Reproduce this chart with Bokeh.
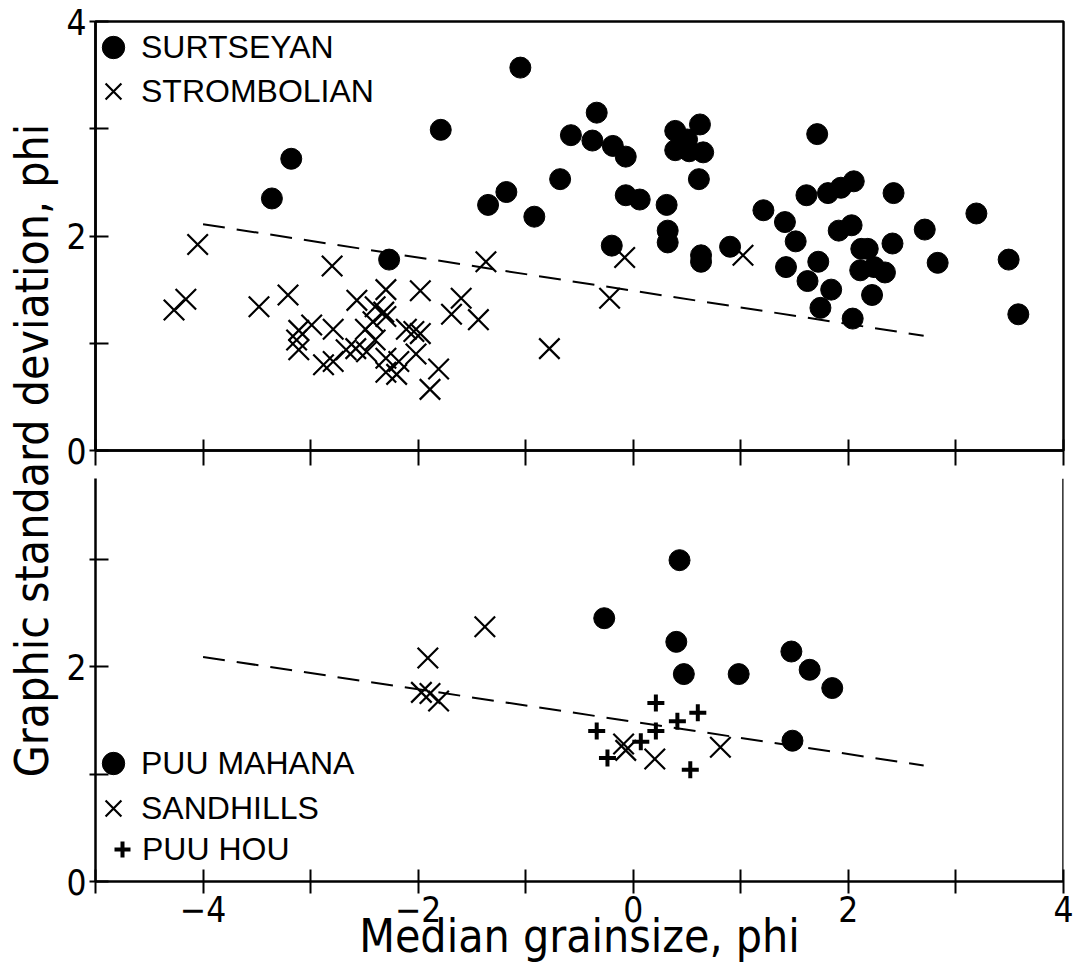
from math import pi
from bokeh.plotting import figure
from bokeh.layouts import row, column
from bokeh.models import (Legend, LegendItem, FixedTicker, Label, Range1d, Span)
from bokeh.embed import file_html
from bokeh.resources import INLINE

# ---------------- data ----------------
# Top panel: Surtseyan (dots)
surt_x = [-3.36, -3.18, -1.79, -2.27,
          -1.05, -0.34, -0.58, -0.38, -0.19, -0.07,
          0.39, 0.62, 0.50, 0.39, 0.52, 0.65, 0.61,
          -0.68, -1.18, -1.35, -0.92, -0.07, 0.06, 0.31, 0.32, 0.32,
          -0.20, 0.63, 0.63, 0.90,
          1.71, 1.61, 1.81, 1.93, 2.05, 2.42, 1.21, 1.41, 1.51, 1.91,
          2.03, 2.12, 2.11, 2.24, 2.34, 2.18, 2.41, 2.71, 3.19, 2.83,
          3.49, 3.58, 1.42, 1.72, 1.62, 1.84, 1.74, 2.22, 2.04]
surt_y = [2.35, 2.72, 2.99, 1.78,
          3.57, 3.15, 2.94, 2.89, 2.84, 2.74,
          2.98, 3.04, 2.90, 2.80, 2.79, 2.78, 2.53,
          2.53, 2.41, 2.29, 2.18, 2.38, 2.34, 2.29, 2.05, 1.94,
          1.91, 1.82, 1.76, 1.90,
          2.95, 2.38, 2.40, 2.45, 2.51, 2.40, 2.24, 2.13, 1.95, 2.05,
          2.10, 1.88, 1.68, 1.71, 1.66, 1.88, 1.93, 2.06, 2.21, 1.75,
          1.78, 1.27, 1.71, 1.76, 1.58, 1.50, 1.33, 1.45, 1.23]

# Top panel: Strombolian (crosses)
strom_x = [-4.05, -4.16, -4.27, -3.48, -3.21, -2.80, -2.30, -1.98, -1.60, -1.69,
           -2.57, -2.40, -2.30, -2.32, -2.42, -2.99, -2.79, -3.11, -3.13, -3.11,
           -2.49, -2.40, -2.11, -2.04, -1.98, -2.02, -1.81, -1.89, -2.18, -2.20,
           -2.30, -2.67, -2.58, -2.79, -2.88, -2.48, -2.30,
           -1.37, -1.44, -0.78, -0.22, -0.08, 1.02]
strom_y = [1.92, 1.41, 1.31, 1.34, 1.45, 1.72, 1.50, 1.49, 1.42, 1.27,
           1.40, 1.34, 1.25, 1.29, 1.20, 1.17, 1.13, 1.12, 1.03, 0.94,
           1.13, 1.03, 1.13, 1.11, 1.09, 0.90, 0.76, 0.57, 0.83, 0.71,
           0.73, 0.94, 0.95, 0.83, 0.80, 0.92, 0.86,
           1.76, 1.22, 0.95, 1.42, 1.80, 1.82]

# Bottom panel
mahana_x = [0.43, -0.27, 0.40, 0.47, 0.98, 1.47, 1.64, 1.85, 1.48]
mahana_y = [2.99, 2.45, 2.23, 1.93, 1.93, 2.14, 1.97, 1.80, 1.31]

sand_x = [-1.38, -1.91, -1.97, -1.81, -1.89, -0.09, -0.07, 0.20, 0.81]
sand_y = [2.37, 2.08, 1.76, 1.68, 1.75, 1.28, 1.22, 1.14, 1.25]

hou_x = [0.21, 0.60, 0.41, 0.21, -0.34, 0.07, -0.24, 0.53]
hou_y = [1.66, 1.57, 1.49, 1.40, 1.40, 1.30, 1.15, 1.04]

# Dashed trend lines (end points)
trend_x = [-4.0, 2.7]
trend_top_y = [2.11, 1.07]
trend_bot_y = [2.09, 1.08]

x_ticks = [-5, -4, -3, -2, -1, 0, 1, 2, 3, 4]
x_labels = {-4: "\u22124", -2: "\u22122", 0: "0", 2: "2", 4: "4"}
y_ticks_top = [0, 1, 2, 3, 4]
y_ticks_bot = [0, 1, 2, 3]
y_labels = {0: "0", 2: "2", 4: "4"}

COND = "DejaVu Sans Condensed, Liberation Sans"
SANS = "Liberation Sans"
AXW = 2.5

xr = Range1d(-5, 4)


def base_fig(height, yr, mb_top, mb_bot):
    p = figure(width=1011, height=height, x_range=xr, y_range=yr,
               output_backend="svg", toolbar_location=None,
               min_border_left=33, min_border_right=10,
               min_border_top=mb_top, min_border_bottom=mb_bot)
    p.grid.visible = False
    p.background_fill_color = "white"
    p.border_fill_color = "white"
    for ax in p.axis:
        ax.axis_line_width = AXW
        ax.axis_line_color = "black"
        ax.major_tick_line_width = 2
        ax.major_tick_line_color = "black"
        ax.minor_tick_line_color = None
        ax.major_label_text_font = COND
        ax.major_label_text_font_size = "35px"
        ax.major_label_text_color = "black"
    return p


def key(p, label, renderer, loc, box):
    leg = Legend(items=[LegendItem(label=label, renderers=[renderer])],
                 location=loc, margin=0, padding=0, spacing=0,
                 glyph_width=box, glyph_height=box, label_height=30,
                 label_standoff=0, label_text_font=SANS,
                 label_text_font_size="32px", label_text_color="black",
                 background_fill_alpha=0, border_line_color=None)
    p.add_layout(leg)


# ---------------- top panel ----------------
p1 = base_fig(478, Range1d(0, 4), 21, 28)
p1.outline_line_color = "black"
p1.outline_line_width = AXW
p1.outline_line_alpha = 1.0
p1.xaxis.ticker = FixedTicker(ticks=x_ticks)
p1.xaxis.major_label_overrides = {t: "" for t in x_ticks}
p1.xaxis.major_label_text_font_size = "0px"
p1.xaxis.major_tick_in = 11
p1.xaxis.major_tick_out = 15
p1.yaxis.ticker = FixedTicker(ticks=y_ticks_top)
p1.yaxis.major_label_overrides = {t: y_labels.get(t, "") for t in y_ticks_top}
p1.yaxis.major_tick_in = 13
p1.yaxis.major_tick_out = 6
p1.yaxis.major_label_standoff = 3

p1.line(trend_x, trend_top_y, line_dash="22 12", line_width=2, line_color="black")
r_surt = p1.scatter(surt_x, surt_y, marker="circle", size=21,
                    fill_color="black", line_color="black")
r_strom = p1.scatter(strom_x, strom_y, marker="x", size=29,
                     line_color="black", line_width=2.2)

key(p1, "SURTSEYAN", r_surt, (-10, 375), 56)
key(p1, "STROMBOLIAN", r_strom, (-10, 331), 56)

# ---------------- bottom panel ----------------
p2 = base_fig(496, Range1d(0, 3.75), 0, 93)
p2.outline_line_color = None
p2.xaxis.ticker = FixedTicker(ticks=x_ticks)
p2.xaxis.major_label_overrides = {t: x_labels.get(t, "") for t in x_ticks}
p2.xaxis.major_tick_in = 12
p2.xaxis.major_tick_out = 12
p2.xaxis.major_label_standoff = 2
p2.xaxis.axis_label = "Median grainsize, phi"
p2.xaxis.axis_label_text_font = COND
p2.xaxis.axis_label_text_font_size = "46px"
p2.xaxis.axis_label_text_font_style = "normal"
p2.xaxis.axis_label_text_color = "black"
p2.xaxis.axis_label_standoff = -16
p2.yaxis.ticker = FixedTicker(ticks=y_ticks_bot)
p2.yaxis.major_label_overrides = {t: y_labels.get(t, "") for t in y_ticks_bot}
p2.yaxis.major_tick_in = 13
p2.yaxis.major_tick_out = 6
p2.yaxis.major_label_standoff = 3
p2.add_layout(Span(location=4, dimension="height", line_color="black",
                   line_width=AXW))

p2.line(trend_x, trend_bot_y, line_dash="22 12", line_width=2, line_color="black")
r_sand = p2.scatter(sand_x, sand_y, marker="x", size=29,
                    line_color="black", line_width=2.2)
r_mah = p2.scatter(mahana_x, mahana_y, marker="circle", size=21,
                   fill_color="black", line_color="black")
r_hou = p2.scatter(hou_x, hou_y, marker="cross", size=17,
                   line_color="black", line_width=4)

key(p2, "PUU MAHANA", r_mah, (-10, 90), 56)
key(p2, "SANDHILLS", r_sand, (-10, 45), 56)
key(p2, "PUU HOU", r_hou, (7, 12), 40)

# ---------------- shared y-axis title ----------------
p0 = figure(width=62, height=974, x_range=(0, 1), y_range=(0, 1),
            output_backend="svg", toolbar_location=None,
            min_border_left=0, min_border_right=0,
            min_border_top=0, min_border_bottom=0)
p0.axis.visible = False
p0.grid.visible = False
p0.outline_line_color = None
p0.add_layout(Label(x=31, y=524, x_units="screen", y_units="screen",
                    text="Graphic standard deviation, phi", angle=pi / 2,
                    text_align="center", text_baseline="middle",
                    text_font=COND, text_font_size="46px",
                    text_color="black"))

layout = row(p0, column(p1, p2))
open("out.html", "w").write(file_html(layout, INLINE))
